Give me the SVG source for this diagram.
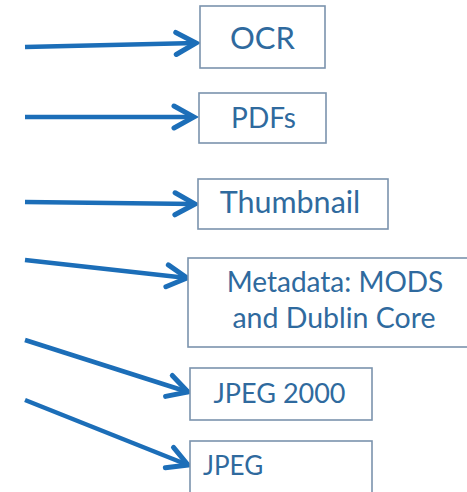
<svg xmlns="http://www.w3.org/2000/svg" width="467" height="492" viewBox="0 0 467 492">
<defs>
<style>
.box{fill:#ffffff;stroke:#7b93ad;stroke-width:1.6}
.lbl{font-family:Lato,"Open Sans","Liberation Sans",sans-serif;fill:#2f6a9e}
.c{text-anchor:middle}
.arr{fill:none;stroke:#1c6eb8;stroke-width:4.5;marker-end:url(#head)}
</style>
<marker id="head" markerUnits="userSpaceOnUse" markerWidth="30" markerHeight="30" viewBox="-25 -15 30 30" refX="0" refY="0" orient="auto">
<path d="M-20,-11 L0,0 L-20,11" fill="none" stroke="#1c6eb8" stroke-width="5" stroke-linecap="round" stroke-linejoin="miter"/>
</marker>
</defs>
<rect width="467" height="492" fill="#ffffff"/>
<g id="connectors">
<path class="arr" d="M25,47 L196,43"/>
<path class="arr" d="M25,117 L194,117"/>
<path class="arr" d="M25,202 L195,204"/>
<path class="arr" d="M25,260 L187,278"/>
<path class="arr" d="M25,340 L188,392"/>
<path class="arr" d="M25,400 L188,465"/>
</g>
<g id="ocr">
<rect class="box" x="200" y="6" width="125" height="62"/>
<text class="lbl c" x="262.5" y="49" font-size="31">OCR</text>
</g>
<g id="pdfs">
<rect class="box" x="199" y="93" width="127" height="50"/>
<text class="lbl c" x="263.5" y="128" font-size="28">PDFs</text>
</g>
<g id="thumbnail">
<rect class="box" x="198" y="179" width="190" height="50"/>
<text class="lbl c" x="290" y="213" font-size="30.5">Thumbnail</text>
</g>
<g id="metadata">
<rect class="box" x="188" y="258" width="285" height="89"/>
<text class="lbl c" x="335" y="292" font-size="28">Metadata: MODS</text>
<text class="lbl c" x="334" y="328" font-size="28.5">and Dublin Core</text>
</g>
<g id="jpeg2000">
<rect class="box" x="190" y="368" width="182" height="52"/>
<text class="lbl c" x="279.5" y="403" font-size="27">JPEG 2000</text>
</g>
<g id="jpeg">
<rect class="box" x="190" y="441" width="182" height="60"/>
<text class="lbl" x="203" y="475" font-size="26">JPEG</text>
</g>
</svg>
